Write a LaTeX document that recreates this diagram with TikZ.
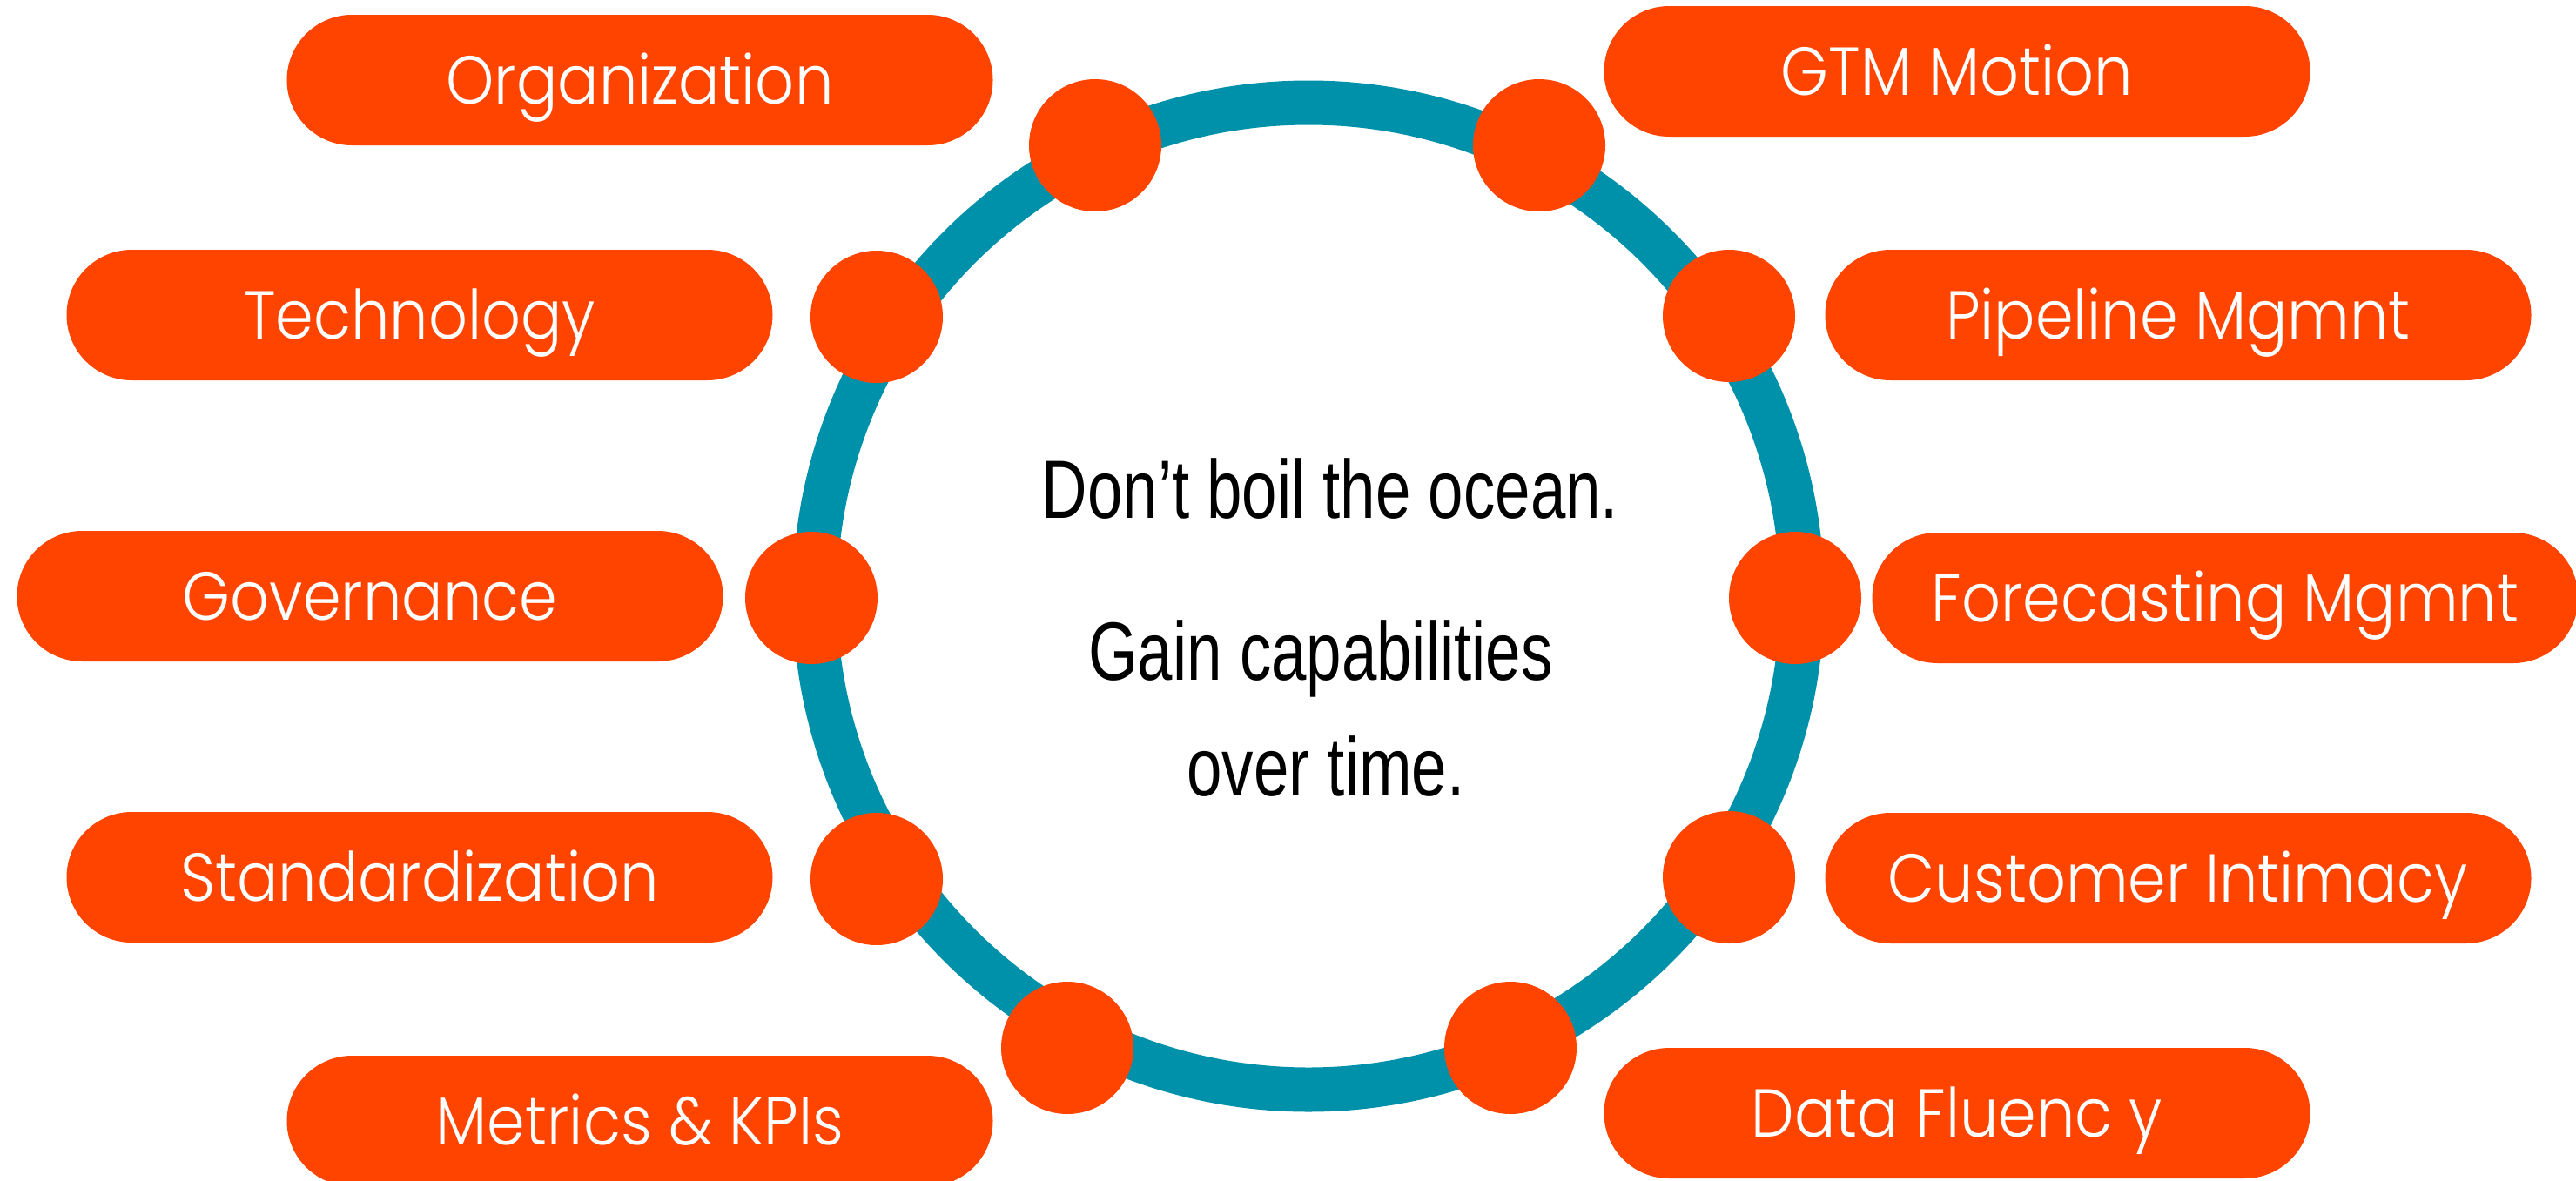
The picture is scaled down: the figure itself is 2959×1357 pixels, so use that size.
\documentclass[tikz,border=0pt]{standalone}
\usepackage{fontspec}
\newfontfamily\pillfont{Poppins Light}[FakeStretch=0.9]
\newfontfamily\centerfont{Liberation Sans}[FakeStretch=0.765]
\definecolor{orng}{HTML}{FF4400}
\definecolor{teal}{HTML}{0091AA}
\begin{document}
\begin{tikzpicture}[x=1pt,y=-1pt,
  pill/.style={fill=orng, rounded corners=75pt, minimum width=811pt, minimum height=150pt,
    inner sep=0pt, text=white, text height=55pt, text depth=0pt,
    font=\pillfont\fontsize{78}{78}\selectfont},
  dot/.style={circle, fill=orng, minimum size=152pt, inner sep=0pt},
  ctext/.style={font=\centerfont\fontsize{95}{95}\selectfont, anchor=base, inner sep=0pt}]
\useasboundingbox (0,0) rectangle (2959,1357);
\fill[white] (0,0) rectangle (2959,1357);
% ring
\draw[teal, line width=51pt] (1503,685) circle[radius=567];
% dots
\node[dot] (d1) at (1258,167) {};
\node[dot] (d2) at (1768,167) {};
\node[dot] (d3) at (1007,364) {};
\node[dot] (d4) at (1986,363) {};
\node[dot] (d5) at (932,687) {};
\node[dot] (d6) at (2062,687) {};
\node[dot] (d7) at (1007,1010) {};
\node[dot] (d8) at (1986,1008) {};
\node[dot] (d9) at (1226,1204) {};
\node[dot] (d10) at (1735,1204) {};
% pills
\node[pill] (p1) at (735,92) {Organization};
\node[pill] (p2) at (2248,82) {GTM Motion};
\node[pill] (p3) at (482,362) {Technology};
\node[pill] (p4) at (2502,362) {Pipeline Mgmnt};
\node[pill] (p5) at (425,685) {Governance};
\node[pill] (p6) at (2556,687) {Forecasting Mgmnt};
\node[pill] (p7) at (482,1008) {Standardization};
\node[pill] (p8) at (2502,1009) {Customer Intimacy};
\node[pill] (p9) at (735,1288) {Metrics \& KPIs};
\node[pill] (p10) at (2248,1279) {Data Fluenc y};
% center text
\node[ctext] (t1) at (1528,595) {Don’t boil the ocean.};
\node[ctext] (t2) at (1517,781) {Gain capabilities};
\node[ctext] (t3) at (1523,914) {over time.};
\end{tikzpicture}
\end{document}
